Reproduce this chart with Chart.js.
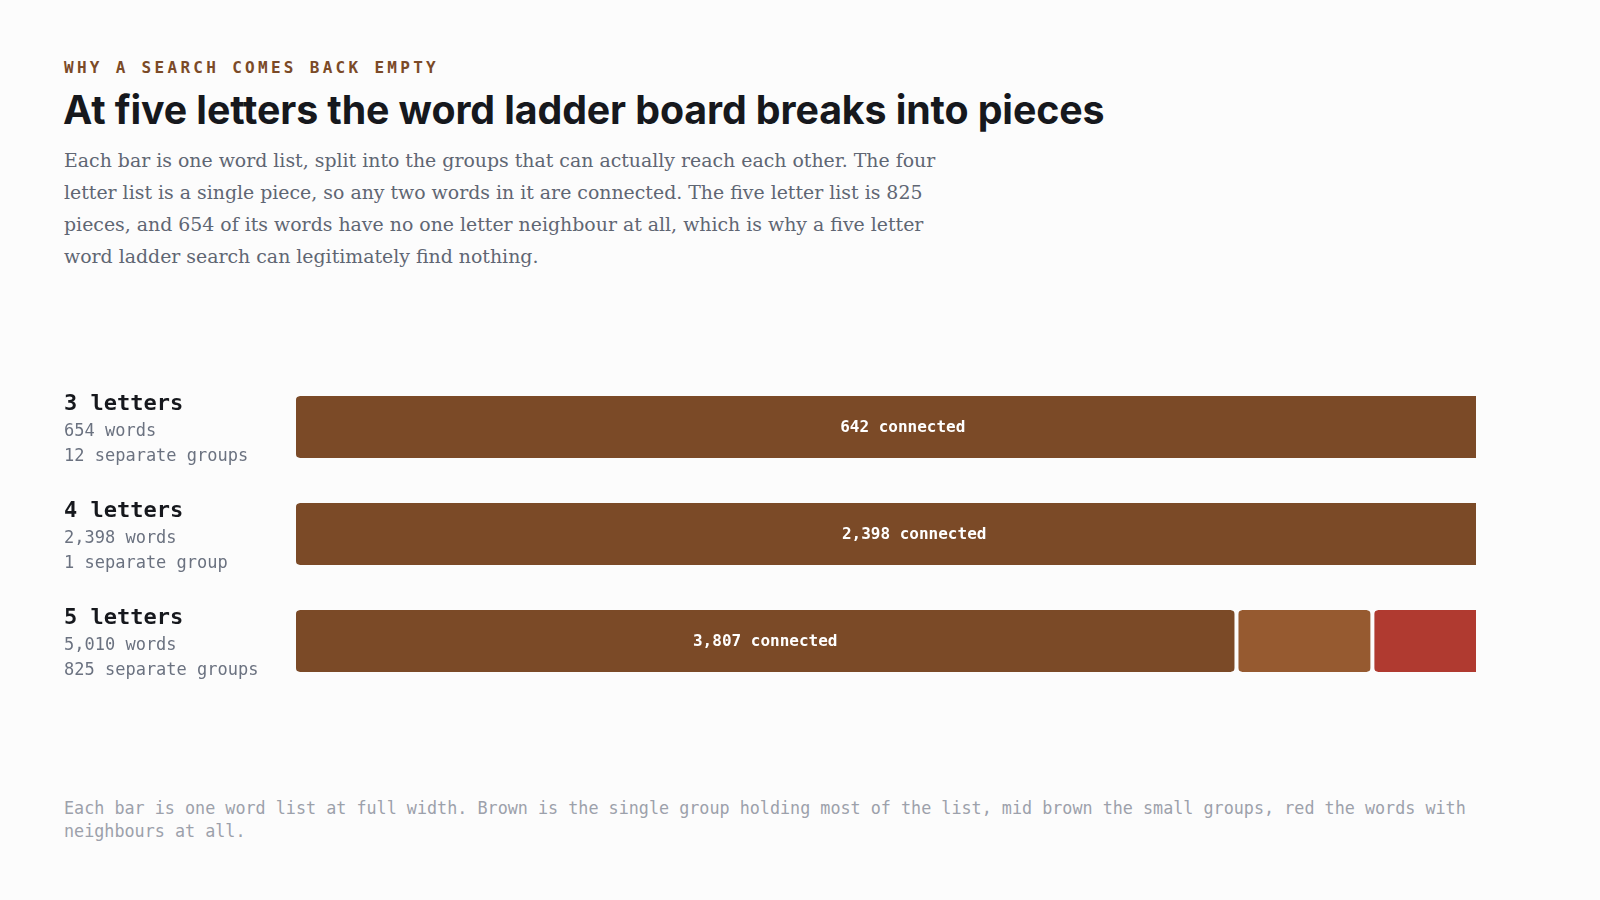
<!DOCTYPE html>
<html>
<head>
<meta charset="utf-8">
<script src="https://cdn.jsdelivr.net/npm/chart.js@4"></script>
<style>
  html, body { margin: 0; padding: 0; background: #fcfcfc; }
  body { width: 1600px; height: 900px; position: relative; overflow: hidden; }
  .eyebrow {
    position: absolute; left: 64px; top: 60px;
    font: bold 16px/16px "DejaVu Sans Mono", monospace;
    letter-spacing: 3.3px; color: #7b4a27;
  }
  .title {
    position: absolute; left: 63px; top: 90px; margin: 0;
    font: 700 39.3px/39px Inter, sans-serif;
    letter-spacing: -0.1px; color: #16181d; white-space: nowrap;
  }
  .lede {
    position: absolute; left: 64px; top: 144px; margin: 0;
    font: 18.9px/32px "DejaVu Serif", serif;
    color: #5f6673; white-space: nowrap;
  }
  .note {
    position: absolute; left: 64px; top: 797px; width: 1440px; margin: 0;
    font: 16.75px/23px "DejaVu Sans Mono", monospace;
    color: #9ca1ab;
  }
  #wrap { position: absolute; left: 0; top: 340px; width: 1600px; height: 400px; }
</style>
</head>
<body>
<div class="eyebrow">WHY A SEARCH COMES BACK EMPTY</div>
<h1 class="title">At five letters the word ladder board breaks into pieces</h1>
<p class="lede">Each bar is one word list, split into the groups that can actually reach each other. The four<br>letter list is a single piece, so any two words in it are connected. The five letter list is 825<br>pieces, and 654 of its words have no one letter neighbour at all, which is why a five letter<br>word ladder search can legitimately find nothing.</p>
<div id="wrap"><canvas id="ladderChart"></canvas></div>
<p class="note">Each bar is one word list at full width. Brown is the single group holding most of the list, mid brown the small groups, red the words with neighbours at all.</p>

<script>
// word lists
const rowLabels = ['3 letters', '4 letters', '5 letters'];
const totalWords = [654, 2398, 5010];
const groupCounts = [12, 1, 825];

// words per kind of group
const connected = [642, 2398, 3807];
const smallGroups = [2, 0, 549];
const isolated = [10, 0, 654];

const BROWN = '#7b4a27';
const MID = '#965a30';
const RED = '#b03a30';
const PAGE = '#fcfcfc';

const share = (arr) => arr.map((v, i) => v / totalWords[i] * 100);
const fmt = (n) => n.toLocaleString('en-US');

const segment = (label, values, color) => ({
    label: label,
    data: share(values),
    backgroundColor: color,
    borderColor: PAGE,
    borderWidth: {left: 2, right: 2, top: 0, bottom: 0},
    borderSkipped: false,
    borderRadius: {topLeft: 6, topRight: 6, bottomLeft: 6, bottomRight: 6},
    inflateAmount: 0,
    barThickness: 62,
    clip: 0
});

// texts left of the bars and inside the brown piece
const rowText = {
    id: 'rowText',
    afterDatasetsDraw(chart) {
        const ctx = chart.ctx;
        const y = chart.scales.y;
        ctx.save();
        rowLabels.forEach((name, i) => {
            const top = y.getPixelForValue(i) - 31;
            ctx.textAlign = 'left';
            ctx.textBaseline = 'alphabetic';
            ctx.fillStyle = '#16181d';
            ctx.font = 'bold 22px "DejaVu Sans Mono"';
            ctx.fillText(name, 64, top + 13.5);
            ctx.fillStyle = '#6b7280';
            ctx.font = '17px "DejaVu Sans Mono"';
            ctx.fillText(fmt(totalWords[i]) + ' words', 64, top + 40);
            const g = groupCounts[i];
            ctx.fillText(g + ' separate group' + (g === 1 ? '' : 's'), 64, top + 65);
        });

        const meta = chart.getDatasetMeta(0);
        ctx.fillStyle = '#ffffff';
        ctx.font = 'bold 16px "DejaVu Sans Mono"';
        ctx.textAlign = 'center';
        ctx.textBaseline = 'middle';
        meta.data.forEach((bar, i) => {
            const p = bar.getProps(['x', 'base', 'y'], true);
            ctx.fillText(fmt(connected[i]) + ' connected', (p.x + p.base) / 2, p.y + 1);
        });
        ctx.restore();
    }
};

new Chart(document.getElementById('ladderChart'), {
    type: 'bar',
    data: {
        labels: rowLabels,
        datasets: [
            segment('Connected', connected, BROWN),
            segment('Small groups', smallGroups, MID),
            segment('No neighbour', isolated, RED)
        ]
    },
    options: {
        indexAxis: 'y',
        responsive: true,
        maintainAspectRatio: false,
        animation: false,
        layout: {
            padding: {left: 294, right: 124, top: 33.5, bottom: 45.5}
        },
        scales: {
            x: {stacked: true, min: 0, max: 95.3, display: false},
            y: {stacked: true, display: false}
        },
        plugins: {
            legend: {display: false},
            tooltip: {enabled: false}
        }
    },
    plugins: [rowText]
});
</script>
</body>
</html>
